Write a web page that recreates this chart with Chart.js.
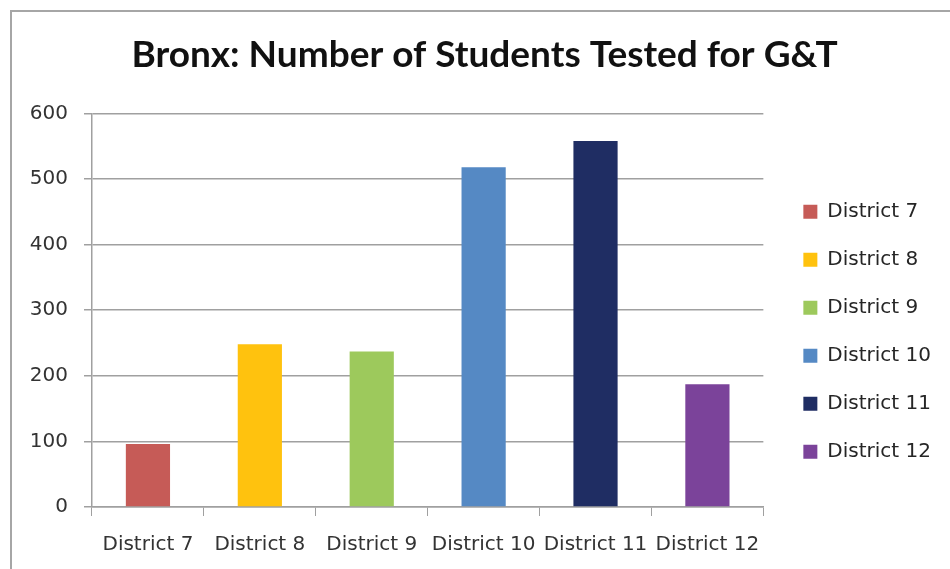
<!DOCTYPE html>
<html>
<head>
<meta charset="utf-8">
<script src="https://cdn.jsdelivr.net/npm/chart.js@4"></script>
<style>
  html, body { margin: 0; padding: 0; background: #fff; overflow: hidden; }
  #wrap { position: relative; width: 950px; height: 569px; }
  #frame { position: absolute; left: 10px; top: 10px; width: 960px; height: 600px;
           border: 2px solid #a6a6a6; box-sizing: border-box; }
  #chart { position: absolute; left: 0; top: 0; }
</style>
</head>
<body>
<div id="wrap">
  <div id="frame"></div>
  <canvas id="chart" width="950" height="569"></canvas>
</div>
<script>
// chart data
const districts = ['District 7', 'District 8', 'District 9', 'District 10', 'District 11', 'District 12'];
const studentsTested = [96, 248, 237, 518, 558, 187];
const barColors = ['#C65B57', '#FFC20E', '#9DC95C', '#5589C4', '#1F2D63', '#7B439A'];
const yTicks = [0, 100, 200, 300, 400, 500, 600];

const gridGray = '#a0a0a0';
const textGray = '#333333';

const ctx = document.getElementById('chart').getContext('2d');

new Chart(ctx, {
    type: 'bar',
    data: {
        labels: districts,
        datasets: [{
            label: 'Students Tested',
            data: studentsTested,
            backgroundColor: barColors,
            borderWidth: 0,
            barPercentage: 0.395,
            categoryPercentage: 1
        }]
    },
    options: {
        responsive: false,
        animation: false,
        layout: {
            padding: { left: 28, right: 9, top: 0, bottom: -5 }
        },
        plugins: {
            title: {
                display: true,
                text: 'Bronx: Number of Students Tested for G&T',
                color: '#111',
                font: { family: 'Lato', size: 37, weight: 'bold' },
                padding: { top: 33, bottom: 36 }
            },
            legend: {
                position: 'right',
                align: 'center',
                fullSize: false,
                maxWidth: 400,
                // empty title just pushes the items down a bit
                title: { display: true, text: ' ', font: { size: 1 }, padding: { top: 42, bottom: 0 } },
                labels: {
                    boxWidth: 14,
                    boxHeight: 14,
                    padding: 28,
                    color: '#262626',
                    font: { family: 'DejaVu Sans', size: 20 },
                    generateLabels: (chart) => chart.data.labels.map((name, i) => ({
                        text: name,
                        fillStyle: barColors[i],
                        strokeStyle: barColors[i],
                        fontColor: '#262626',
                        lineWidth: 0,
                        index: i
                    }))
                }
            },
            tooltip: { enabled: false }
        },
        scales: {
            x: {
                grid: {
                    offset: true,
                    drawOnChartArea: false,
                    drawTicks: true,
                    tickLength: 9,
                    color: gridGray
                },
                border: { color: gridGray, width: 1.5 },
                ticks: {
                    color: textGray,
                    font: { family: 'DejaVu Sans', size: 20, lineHeight: 1 },
                    padding: 19,
                    maxRotation: 0,
                    autoSkip: false
                }
            },
            y: {
                min: 0,
                max: 600,
                afterBuildTicks: (axis) => { axis.ticks = yTicks.map(v => ({ value: v })); },
                afterFit: (axis) => { axis.width = 64; },
                grid: {
                    color: gridGray,
                    lineWidth: 1.5,
                    tickLength: 8
                },
                border: { color: gridGray, width: 1.5 },
                ticks: {
                    color: textGray,
                    font: { family: 'DejaVu Sans', size: 20 },
                    padding: 16
                }
            },
            // blank spacer between plot and legend
            gap: {
                position: 'right',
                display: true,
                afterFit: (axis) => { axis.width = 12; },
                grid: { display: false },
                border: { display: false },
                ticks: { display: false }
            }
        }
    }
});
</script>
</body>
</html>
